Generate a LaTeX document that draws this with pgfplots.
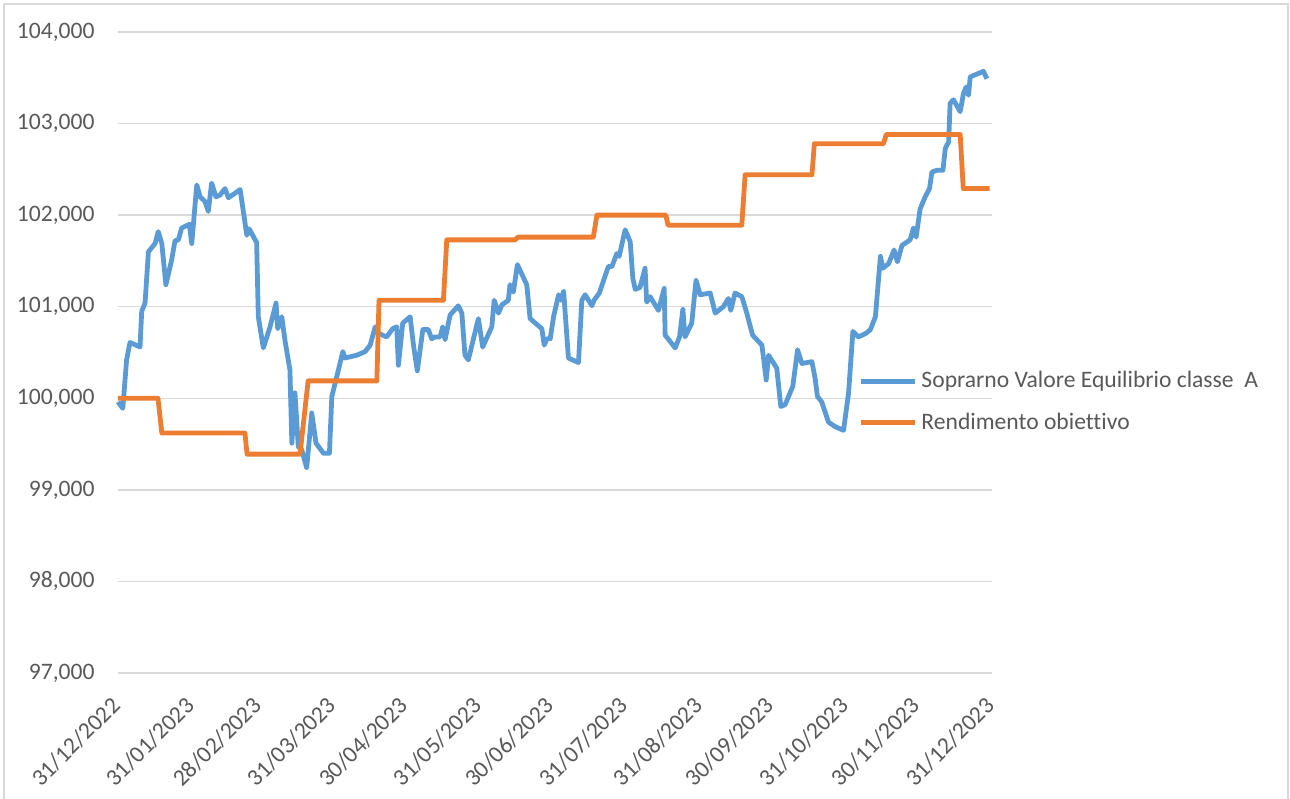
\documentclass[border=0pt]{standalone}
\usepackage{pgfplots}
\pgfplotsset{compat=1.18}
\usepackage{fontspec}
\setmainfont{Carlito}[Ligatures=NoCommon]
\definecolor{serA}{HTML}{5B9BD5}
\definecolor{serB}{HTML}{ED7D31}
\definecolor{gridc}{HTML}{D9D9D9}
\definecolor{txt}{HTML}{595959}
\begin{document}
\begin{tikzpicture}
\useasboundingbox (0,0) rectangle (645pt,399pt);
\draw[gridc, line width=0.75pt] (2pt,-2pt) -- (2pt,397pt) -- (644pt,397pt) -- (644pt,-2pt);
\begin{axis}[
  at={(59pt,62.5pt)}, anchor=south west,
  scale only axis, width=437pt, height=320.5pt,
  xmin=0, xmax=365, ymin=97, ymax=104,
  clip=false,
  axis line style={draw=none},
  major tick length=0pt,
  ymajorgrids, grid style={gridc, line width=0.75pt},
  ytick={97,98,99,100,101,102,103,104},
  xtick={0,31,59,90,120,151,181,212,243,273,304,334,365},
  xticklabels={31/12/2022,31/01/2023,28/02/2023,31/03/2023,30/04/2023,31/05/2023,30/06/2023,31/07/2023,31/08/2023,30/09/2023,31/10/2023,30/11/2023,31/12/2023},
  /pgf/number format/.cd, fixed, fixed zerofill, precision=3, use comma, assume math mode=true,
  /pgfplots/.cd,
  tick label style={font=\fontsize{11.8}{14}\selectfont, text=txt},
  yticklabel style={anchor=east, inner sep=0pt, xshift=-11.5pt},
  xticklabel style={xshift=-4pt, yshift=-11pt, rotate=45, anchor=north east, inner sep=0pt},
  legend style={at={(0.847,0.423)}, anchor=west, draw=none, fill=none,
    font=\fontsize{11.8}{14}\selectfont, text=txt, row sep=7pt, inner sep=0pt},
  legend cell align=left,
  legend image code/.code={\draw[#1] (0pt,0pt) -- (27pt,0pt);},
]
\addplot[serA, line width=2.4pt, line join=round] coordinates {
(0,99.96) (2,99.89) (3.6,100.42) (5.0,100.61) (9.2,100.56) (9.9,100.95) (11.3,101.04) (12.7,101.60)
(15.5,101.69) (16.8,101.82) (18.3,101.69) (20.0,101.24) (22.4,101.51) (23.8,101.72) (25.2,101.73)
(26.6,101.86) (29.8,101.90) (30.8,101.69) (32.9,102.33) (34.3,102.20) (36.3,102.15) (37.7,102.04)
(39.1,102.35) (40.9,102.20) (42.6,102.22) (44.7,102.29) (46.1,102.19) (48.9,102.24) (51.0,102.28)
(53.8,101.78) (54.8,101.85) (57.9,101.70) (58.6,100.89) (60.7,100.55) (63.5,100.78) (66.0,101.04)
(66.7,100.76) (68.4,100.89) (69.8,100.62) (71.8,100.31) (72.6,99.51) (73.9,100.06) (75.3,99.47)
(76.7,99.44) (78.8,99.24) (80.9,99.84) (82.7,99.51) (85.8,99.40) (88.3,99.40) (89.3,100.02)
(91.4,100.24) (93.9,100.51) (94.8,100.44) (99.7,100.47) (103.2,100.51) (105.3,100.58) (107.4,100.78)
(108.7,100.71) (112.2,100.67) (114.7,100.76) (116.4,100.78) (117.1,100.36) (118.9,100.82) (122.0,100.89)
(123.4,100.58) (125.0,100.30) (127.3,100.75) (129.6,100.75) (131.0,100.65) (132.4,100.67) (134.5,100.67)
(135.6,100.78) (136.6,100.64) (138.7,100.91) (142.1,101.01) (143.6,100.93) (144.9,100.47) (146.3,100.42)
(150.5,100.87) (152.3,100.56) (156.1,100.78) (157.1,101.07) (158.9,100.93) (160.3,101.02) (163.0,101.07)
(163.7,101.24) (165.1,101.16) (166.8,101.46) (170.7,101.24) (172.1,100.87) (177.0,100.76) (178.0,100.58)
(179.1,100.65) (180.5,100.65) (181.9,100.89) (184.0,101.13) (185.0,101.07) (186.1,101.17) (188.1,100.44)
(192.3,100.39) (193.7,101.07) (195.1,101.13) (197.9,101.01) (198.8,101.07) (201.0,101.15) (204.8,101.44)
(206.3,101.44) (208.3,101.58) (209.3,101.55) (211.8,101.84) (213.9,101.71) (215.0,101.31) (216.0,101.19)
(218.0,101.21) (220.1,101.42) (220.8,101.05) (222.2,101.11) (225.7,100.96) (228.1,101.20) (228.5,100.69)
(232.7,100.55) (234.5,100.67) (235.9,100.97) (236.8,100.67) (239.6,100.82) (241.4,101.29) (243.1,101.13)
(247.3,101.15) (249.4,100.93) (252.8,101.00) (254.9,101.09) (255.9,100.96) (257.7,101.15) (260.5,101.11)
(262.6,100.93) (265.0,100.69) (268.9,100.58) (270.7,100.20) (271.7,100.47) (275.1,100.33) (276.8,99.91)
(278.6,99.93) (281.8,100.13) (283.8,100.53) (285.6,100.38) (289.8,100.40) (291.1,100.22) (292.1,100.02)
(293.9,99.96) (296.7,99.74) (299.5,99.69) (303.0,99.65) (305.1,100.06) (306.9,100.73) (309.2,100.67)
(312.4,100.71) (314.2,100.75) (316.3,100.89) (318.4,101.55) (319.4,101.42) (321.8,101.47) (324.1,101.62)
(325.5,101.49) (327.4,101.67) (330.8,101.73) (332.2,101.86) (333.3,101.76) (335.0,102.07) (337.1,102.20)
(338.9,102.29) (339.9,102.47) (342.0,102.49) (344.5,102.49) (345.5,102.73) (346.9,102.80) (347.5,103.22)
(348.9,103.26) (351.7,103.13) (353.1,103.33) (354.2,103.40) (355.2,103.31) (355.9,103.51) (361.4,103.57)
(362.9,103.49)
};
\addlegendentry{Soprarno Valore Equilibrio classe\ \ A}
\addplot[serB, line width=2.4pt, line join=round] coordinates {
(0,100.00) (16.7,100.00) (18.3,99.62) (53.0,99.62) (53.9,99.39) (76.0,99.39) (79.4,100.19)
(108.1,100.19) (109.0,101.07) (135.9,101.07) (137.3,101.73) (165.8,101.73) (167.1,101.76)
(198.5,101.76) (200.0,102.00) (228.8,102.00) (229.7,101.89) (260.5,101.89) (261.9,102.44)
(289.8,102.44) (290.8,102.78) (319.7,102.78) (320.8,102.88) (351.7,102.88) (353.0,102.29) (364,102.29)
};
\addlegendentry{Rendimento obiettivo}
\end{axis}
\end{tikzpicture}
\end{document}
